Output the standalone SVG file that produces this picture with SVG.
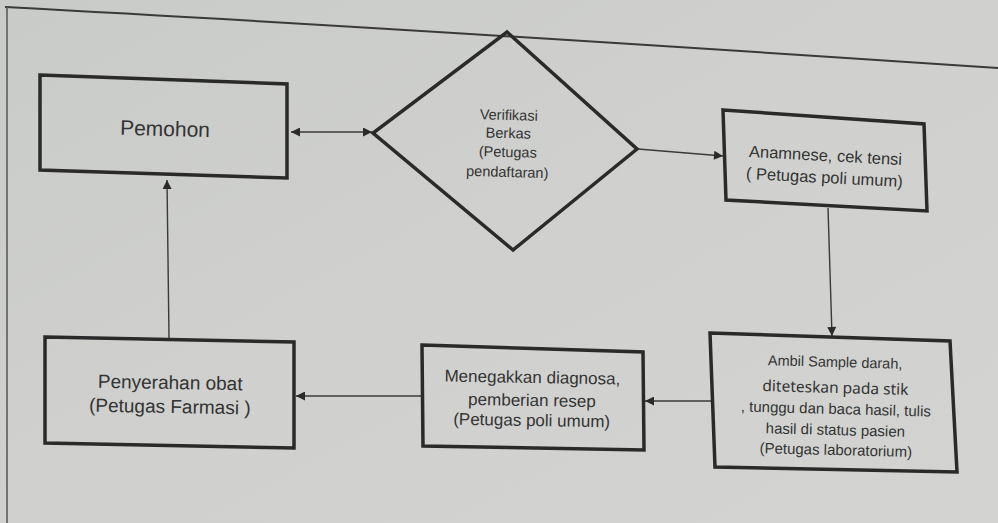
<svg xmlns="http://www.w3.org/2000/svg" width="998" height="523" viewBox="0 0 998 523">
<defs>
<linearGradient id="bg" x1="0" y1="0" x2="1" y2="1">
<stop offset="0" stop-color="#c9cbc8"/>
<stop offset="0.5" stop-color="#d0d1ce"/>
<stop offset="1" stop-color="#d3d4d1"/>
</linearGradient>
<marker id="ah" viewBox="0 0 10 10" refX="10" refY="5" markerWidth="11" markerHeight="9" markerUnits="userSpaceOnUse" orient="auto-start-reverse">
<path d="M0,0 L10,5 L0,10 z" fill="#2b2b2b"/>
</marker>
<style>
.box{fill:none;stroke:#2a2a2a;stroke-width:3.5;stroke-linejoin:miter}
.con{fill:none;stroke:#3a3a3a;stroke-width:1.4}
.t{font-family:"Liberation Sans",Arial,sans-serif;fill:#333;text-anchor:middle}
.c{font-family:"Noto Sans","Open Sans",sans-serif;fill:#333;text-anchor:middle}
</style>
</defs>
<rect x="0" y="0" width="998" height="523" fill="url(#bg)"/>
<path d="M5,7 Q400,28 998,68" fill="none" stroke="#3a3a3a" stroke-width="2"/>
<line x1="7" y1="7" x2="7" y2="523" stroke="#555" stroke-width="1.5"/>

<g id="connectors">
<line class="con" x1="291" y1="132" x2="372" y2="132" marker-start="url(#ah)" marker-end="url(#ah)"/>
<line class="con" x1="638" y1="149" x2="723" y2="156" marker-end="url(#ah)"/>
<line class="con" x1="828" y1="208" x2="832" y2="336" marker-end="url(#ah)"/>
<line class="con" x1="713" y1="401" x2="645" y2="401" marker-end="url(#ah)"/>
<line class="con" x1="422" y1="396" x2="296" y2="396" marker-end="url(#ah)"/>
<line class="con" x1="169" y1="338" x2="167" y2="180" marker-end="url(#ah)"/>
</g>

<g id="pemohon">
<polygon class="box" points="40,75 287,84 287,178 40,170"/>
<text class="t" x="165" y="136" font-size="21" transform="rotate(1.5 165 130)">Pemohon</text>
</g>

<g id="verifikasi">
<polygon class="box" points="507,32 637,149 513,250 373,133"/>
<g transform="rotate(1.5 508 145)">
<text class="t" x="508" y="120" font-size="14.5">Verifikasi</text>
<text class="t" x="508" y="138" font-size="14.5">Berkas</text>
<text class="t" x="508" y="157" font-size="14.5">(Petugas</text>
<text class="t" x="508" y="177" font-size="14.5">pendaftaran)</text>
</g>
</g>

<g id="anamnese">
<polygon class="box" points="723,110 924,124 927,211 726,200"/>
<g transform="rotate(3 825 166)">
<text class="t" x="825" y="161" font-size="16.5">Anamnese, cek tensi</text>
<text class="t" x="825" y="183" font-size="16.5">( Petugas poli umum)</text>
</g>
</g>

<g id="lab">
<polygon class="box" points="710,333 950,341 957,472 715,467"/>
<g transform="rotate(1.5 835 405)">
<text class="t" x="834" y="367" font-size="14.5">Ambil Sample darah,</text>
<text class="c" x="835" y="393" font-size="15.5">diteteskan pada stik</text>
<text class="t" x="836" y="414" font-size="15">, tunggu dan baca hasil, tulis</text>
<text class="t" x="836" y="435" font-size="15">hasil di status pasien</text>
<text class="t" x="837" y="455" font-size="15">(Petugas laboratorium)</text>
</g>
</g>

<g id="diagnosa">
<polygon class="box" points="422,345 643,352 644,450 423,446"/>
<g transform="rotate(1 532 400)">
<text class="t" x="532" y="383" font-size="17">Menegakkan diagnosa,</text>
<text class="t" x="532" y="406" font-size="17">pemberian resep</text>
<text class="t" x="532" y="426" font-size="17">(Petugas poli umum)</text>
</g>
</g>

<g id="penyerahan">
<polygon class="box" points="45,337 294,342 294,448 45,443"/>
<g transform="rotate(1 170 396)">
<text class="t" x="170" y="389" font-size="19">Penyerahan obat</text>
<text class="t" x="170" y="413" font-size="19">(Petugas Farmasi )</text>
</g>
</g>
</svg>
